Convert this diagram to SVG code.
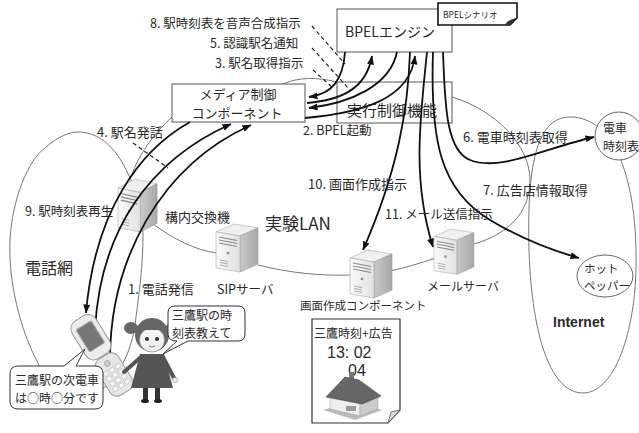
<svg xmlns="http://www.w3.org/2000/svg" width="639" height="433" viewBox="0 0 639 433">
<defs>
<style>
  text { font-family: "Noto Sans CJK JP", "Liberation Sans", sans-serif; fill: #2a2a2a; dominant-baseline: central; }
  .l125 { font-size: 12.5px; }
  .l13 { font-size: 13px; }
  .box { fill: #fff; stroke: #555; stroke-width: 1; }
  .net { fill: none; stroke: #777; stroke-width: 1; }
  .cloud { fill: #fff; stroke: #666; stroke-width: 1; }
  .flow { fill: none; stroke: #111; stroke-width: 1.8; marker-end: url(#ah); }
  .lead { fill: none; stroke: #222; stroke-width: 1.2; stroke-dasharray: 4 3; }
  .bubble { fill: #fff; stroke: #333; stroke-width: 1; }
</style>
<marker id="ah" markerUnits="userSpaceOnUse" markerWidth="9" markerHeight="8" viewBox="0 0 9 8" refX="8.5" refY="4" orient="auto">
  <path d="M0,0.5 L9,4 L0,7.5 Z" fill="#111"/>
</marker>
<linearGradient id="front" x1="0" y1="0" x2="1" y2="0">
  <stop offset="0" stop-color="#fbfbfb"/><stop offset="1" stop-color="#e0e0e0"/>
</linearGradient>
<linearGradient id="side" x1="0" y1="0" x2="1" y2="0">
  <stop offset="0" stop-color="#c9c9c9"/><stop offset="1" stop-color="#a8a8a8"/>
</linearGradient>
<g id="server">
  <polygon points="0,10 18,2 42,6 24,14" fill="#f0f0f0" stroke="#aaa" stroke-width="0.6"/>
  <polygon points="24,14 42,6 42,42 24,50" fill="url(#side)" stroke="#999" stroke-width="0.6"/>
  <polygon points="0,10 24,14 24,50 0,46" fill="url(#front)" stroke="#aaa" stroke-width="0.6"/>
  <path d="M3,15 L21,18.5 M3,18 L21,21.5 M3,21 L21,24.5" stroke="#8a8a8a" stroke-width="1.1"/>
  <circle cx="12" cy="31" r="1.3" fill="#888"/>
  <path d="M4,38 L12,39.5 M4,40.5 L12,42 M4,43 L12,44.5" stroke="#999" stroke-width="0.8"/>
</g>
</defs>

<rect width="639" height="433" fill="#fff"/>

<!-- network outlines -->
<g id="networks">
  <path id="phone-net" class="net" d="M38,363 C20,330 8,280 10,240 C12,200 28,160 45,148 C58,136 70,132 78,132 C95,132 110,142 122,162 C135,185 143,210 143,235 C143,270 138,300 135,325 C130,360 110,395 80,398 C60,398 45,380 38,363 Z"/>
  <path id="internet" class="net" d="M570,117 C615,117 638,180 636,270 C634,340 612,393 583,393 C552,393 532,340 529,250 C527,170 535,117 570,117 Z"/>
  <g id="lan" class="net">
    <path d="M172,117 C158,130 140,150 131,177"/>
    <path d="M150,222 C175,240 195,250 217,253"/>
    <path d="M258,265 C290,273 320,276 352,275"/>
    <path d="M390,271 C405,268 420,263 436,258"/>
    <path d="M474,244 C505,235 530,215 530,180 C530,145 495,110 452,97"/>
    <path d="M283,84 C298,77 318,77 337,82"/>
  </g>
</g>

<!-- servers -->
<g id="pbx"><use href="#server" transform="translate(118,177) scale(0.93,1.1)"/></g>
<g id="sip"><use href="#server" transform="translate(216,222)"/></g>
<g id="render-server"><use href="#server" transform="translate(350,248)"/></g>
<g id="mail"><use href="#server" transform="translate(434,227) scale(0.95,0.95)"/></g>

<!-- components -->
<g id="bpel">
  <rect class="box" x="337" y="9" width="115" height="43"/>
  <text x="390" y="31" font-size="14" text-anchor="middle">BPELエンジン</text>
</g>
<g id="exec">
  <rect class="box" x="337" y="82" width="115" height="41"/>
  <text x="392" y="109" font-size="15" text-anchor="middle">実行制御機能</text>
</g>
<g id="media">
  <rect class="box" x="172" y="84" width="133" height="38"/>
  <text font-size="13" text-anchor="middle"><tspan x="238" y="93">メディア制御</tspan><tspan x="237" y="112">コンポーネント</tspan></text>
</g>
<g id="scenario">
  <path d="M438,3 H517 V18 L510,25 H438 Z" fill="#fff" stroke="#111" stroke-width="1.6"/>
  <path d="M505,25 C507,21 511,19 517,18 L510,25 Z" fill="#333"/>
  <text x="443" y="14" font-size="8.5">BPELシナリオ</text>
</g>
<g id="timetable">
  <circle class="cloud" cx="619" cy="136" r="24"/>
  <text font-size="12"><tspan x="603" y="127">電車</tspan><tspan x="603" y="145">時刻表</tspan></text>
</g>
<g id="hotpepper">
  <ellipse class="cloud" cx="605" cy="276" rx="28" ry="21"/>
  <text font-size="11.5"><tspan x="584" y="268">ホット</tspan><tspan x="584" y="285">ペッパー</tspan></text>
</g>

<!-- message flows -->
<g id="connectors">
  <path class="flow" d="M345,52 C343,80 332,94 309,97"/>
  <path class="flow" d="M307,103 C340,100 366,90 372,56"/>
  <path class="flow" d="M397,52 C390,86 350,103 309,108"/>
  <path class="flow" d="M305,118 C360,113 410,100 415,56"/>
  <path class="flow" d="M410,52 C408,110 398,170 363,250"/>
  <path class="flow" d="M427,52 C420,120 412,180 433,247"/>
  <path class="flow" d="M433,52 C430,140 440,190 490,220 C520,238 550,250 579,258"/>
  <path class="flow" d="M443,52 C445,100 445,150 470,160 C500,172 545,148 594,137"/>
  <path class="flow" d="M190,122 C140,150 95,210 86,313"/>
  <path class="flow" d="M95,330 C100,230 150,160 231,124"/>
  <path class="flow" d="M110,360 C110,260 160,166 251,125"/>
  <path class="lead" d="M312,26 L345,64"/>
  <path class="lead" d="M312,48 L350,90"/>
  <path class="lead" d="M313,70 L333,88"/>
  <path class="lead" d="M133,143 L168,168"/>
</g>

<!-- step labels -->
<g id="labels">
  <text class="l125" x="150" y="22">8. 駅時刻表を音声合成指示</text>
  <text class="l125" x="210" y="42">5. 認識駅名通知</text>
  <text class="l125" x="215" y="62">3. 駅名取得指示</text>
  <text class="l13" x="97" y="131">4. 駅名発話</text>
  <text class="l125" x="303" y="129">2. BPEL起動</text>
  <text class="l13" x="463" y="136">6. 電車時刻表取得</text>
  <text class="l13" x="483" y="189">7. 広告店情報取得</text>
  <text class="l13" x="308" y="183">10. 画面作成指示</text>
  <text class="l125" x="385" y="213">11. メール送信指示</text>
  <text class="l125" x="25" y="210">9. 駅時刻表再生</text>
  <text class="l13" x="165" y="216">構内交換機</text>
  <text x="265" y="222" font-size="17">実験LAN</text>
  <text x="25" y="267" font-size="16">電話網</text>
  <text class="l13" x="128" y="288">1. 電話発信</text>
  <text class="l125" x="217" y="288">SIPサーバ</text>
  <text x="300" y="305" font-size="11.5">画面作成コンポーネント</text>
  <text x="427" y="285" font-size="12">メールサーバ</text>
  <text x="553" y="322" font-size="14" font-weight="bold" style="font-family:'Liberation Sans',sans-serif">Internet</text>
</g>

<!-- mobile phone -->
<g id="phone" transform="rotate(-32 102 355)">
  <rect x="88" y="312" width="28" height="44" rx="9" fill="#ececec" stroke="#999" stroke-width="1"/>
  <rect x="93" y="320" width="18" height="26" rx="2" fill="#777" stroke="#aaa" stroke-width="1"/>
  <rect x="89" y="357" width="26" height="42" rx="8" fill="#e6e6e6" stroke="#999" stroke-width="1"/>
  <circle cx="102" cy="365" r="3" fill="#ccc" stroke="#999" stroke-width="0.6"/>
  <g fill="#fafafa" stroke="#aaa" stroke-width="0.5">
    <rect x="93" y="371" width="5" height="4"/><rect x="100" y="371" width="5" height="4"/><rect x="107" y="371" width="5" height="4"/>
    <rect x="93" y="377" width="5" height="4"/><rect x="100" y="377" width="5" height="4"/><rect x="107" y="377" width="5" height="4"/>
    <rect x="93" y="383" width="5" height="4"/><rect x="100" y="383" width="5" height="4"/><rect x="107" y="383" width="5" height="4"/>
    <rect x="93" y="389" width="5" height="4"/><rect x="100" y="389" width="5" height="4"/><rect x="107" y="389" width="5" height="4"/>
  </g>
</g>

<!-- girl -->
<g id="girl">
  <ellipse cx="131" cy="328" rx="7" ry="6" fill="#666"/>
  <ellipse cx="173" cy="328" rx="7" ry="6" fill="#666"/>
  <path d="M140,354 L164,354 L173,388 L131,388 Z" fill="#555"/>
  <path d="M141,357 L124,372" stroke="#555" stroke-width="4" stroke-linecap="round"/>
  <path d="M163,357 L174,378" stroke="#555" stroke-width="4" stroke-linecap="round"/>
  <circle cx="175" cy="380" r="2.5" fill="#eee" stroke="#888" stroke-width="0.6"/>
  <rect x="143" y="388" width="5" height="12" fill="#333"/>
  <rect x="155" y="388" width="5" height="12" fill="#333"/>
  <ellipse cx="145" cy="401" rx="4" ry="2" fill="#222"/>
  <ellipse cx="158" cy="401" rx="4" ry="2" fill="#222"/>
  <circle cx="152" cy="335" r="17" fill="#666"/>
  <ellipse cx="152" cy="340" rx="12.5" ry="12" fill="#f1f1f1" stroke="#888" stroke-width="0.6"/>
  <path d="M140,330 Q152,322 164,330" fill="#666"/>
  <circle cx="147" cy="339" r="2" fill="#333"/>
  <circle cx="157" cy="339" r="2" fill="#333"/>
  <path d="M149,346 Q152,348 155,346" fill="none" stroke="#555" stroke-width="0.8"/>
</g>

<!-- speech bubbles -->
<g id="bubble-phone">
  <path class="bubble" d="M18,366 H64 L85,349 L76,366 H95 Q103,366 103,374 V401 Q103,409 95,409 H18 Q10,409 10,401 V374 Q10,366 18,366 Z"/>
  <text font-size="12"><tspan x="15" y="379">三鷹駅の次電車</tspan><tspan x="15" y="397">は○時○分です</tspan></text>
</g>
<g id="bubble-girl">
  <path class="bubble" d="M175,306 H238 Q245,306 245,313 V334 Q245,341 238,341 H188 L163,354 L177,341 Q168,341 168,334 V313 Q168,306 175,306 Z"/>
  <text font-size="12"><tspan x="172" y="314">三鷹駅の時</tspan><tspan x="172" y="332">刻表教えて</tspan></text>
</g>

<!-- generated screen -->
<g id="screen-doc">
  <path d="M312,319 H400 V410 L388,423 H312 Z" fill="#fff" stroke="#333" stroke-width="1.2"/>
  <path d="M388,423 L391,412 L400,410 Z" fill="#ddd" stroke="#555" stroke-width="0.8"/>
  <text x="314" y="332" font-size="12">三鷹時刻+広告</text>
  <text x="327" y="352" font-size="16" fill="#444" style="font-family:'Liberation Sans',sans-serif">13: 02</text>
  <text x="348" y="370" font-size="16" fill="#444" style="font-family:'Liberation Sans',sans-serif">04</text>
  <polygon points="323,410 352,402 382,410 355,420" fill="#bbb"/>
  <polygon points="330,396 360,403 360,416 330,409" fill="#eee" stroke="#999" stroke-width="0.5"/>
  <polygon points="360,403 378,396 378,409 360,416" fill="#ccc" stroke="#999" stroke-width="0.5"/>
  <rect x="349" y="372" width="5" height="8" fill="#777"/>
  <polygon points="326,397 345,377 359,380 381,396 362,404" fill="#666" stroke="#444" stroke-width="0.6"/>
  <rect x="346" y="406" width="10" height="5" fill="#999"/>
</g>
</svg>
